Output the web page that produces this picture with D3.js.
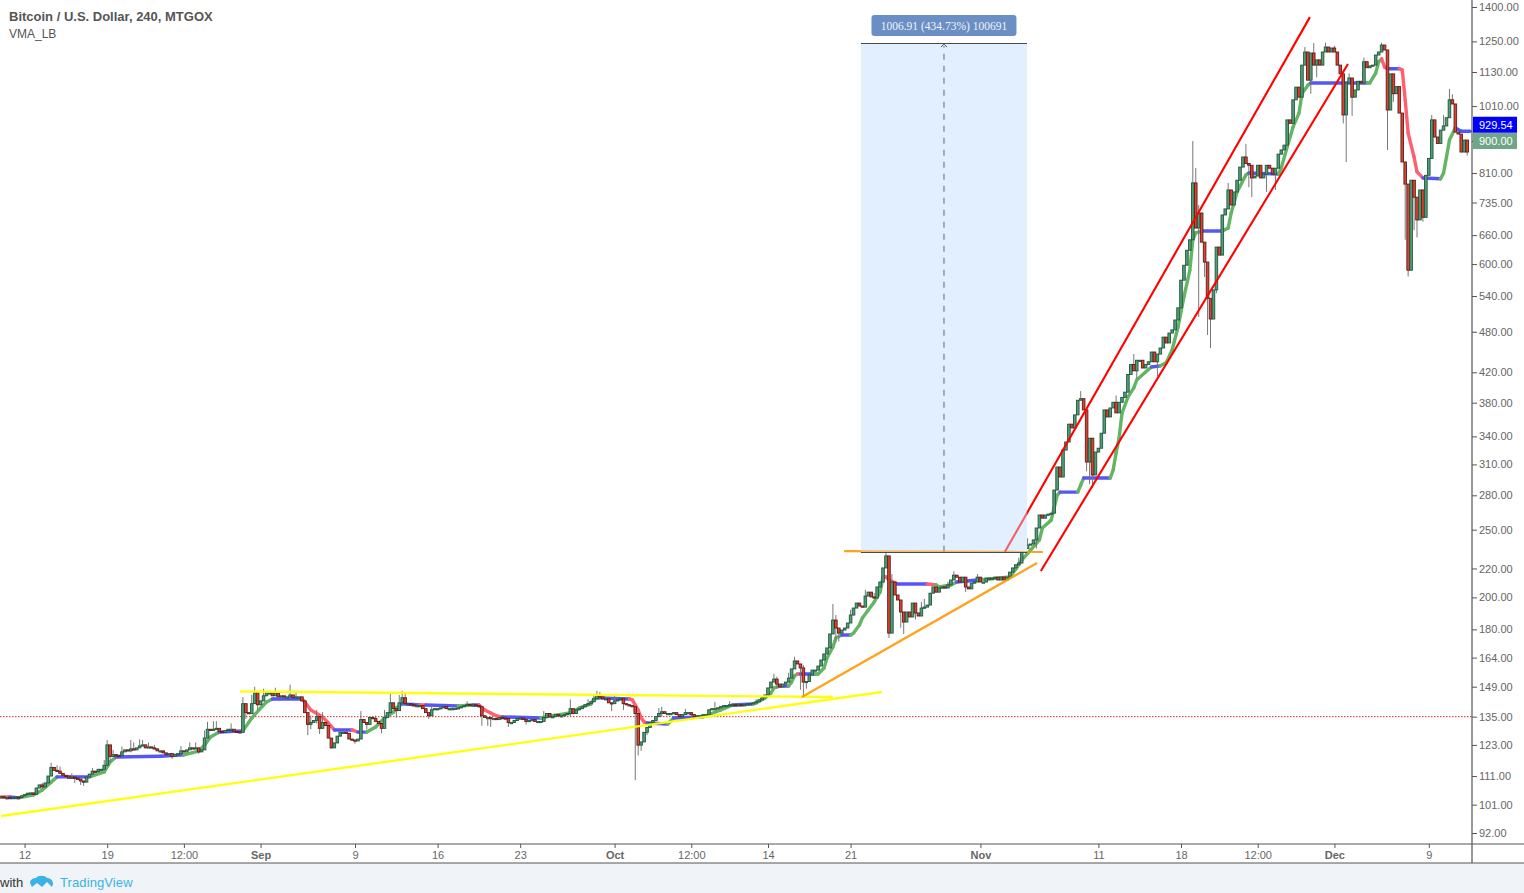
<!DOCTYPE html>
<html>
<head>
<meta charset="utf-8">
<script src="https://cdn.jsdelivr.net/npm/d3@7"></script>
<style>
  html, body { margin: 0; padding: 0; background: #fff; overflow: hidden; }
  svg { display: block; }
</style>
</head>
<body>
<svg id="chart" width="1524" height="893"></svg>
<script>
// closes per 240 bar, ten to a row
const closes = [
  103.7,103.4,103.4,103.2,103.4,103.6,103.4,104,104.4,104.9,
  105,104.5,106.7,107.8,107.1,108.5,111,114.2,113.1,112.8,
  112,111.3,111,110.2,110.6,110.2,109.9,109.2,108.8,110.6,
  111.7,112.8,112.6,113.5,113.5,115,123,118.4,119.1,118.9,
  118.7,120.2,121,120.6,121.4,121,121.8,122.6,123,121.8,
  122.2,121.8,121.4,120.6,120.6,119.8,119.1,119.5,118.4,119.1,
  119.5,120.6,120.2,121,121.8,121.4,121.8,120.2,121,125.8,
  129.5,129,129.5,129.9,128.6,128.2,129,129.5,129.5,128.6,
  128.4,128.2,140.9,136.8,136.4,140.9,146,140.4,142.2,144.6,
  146,146,144.6,146,144.1,144.6,144.1,144.1,145,143.7,
  144.1,144.1,142.2,136.8,131.6,132.4,133.3,135,129.9,132.4,
  131.1,125.8,121.8,123.8,126.6,128.2,128.2,127.8,125.4,125,
  124.6,125.4,133.7,132.4,131.6,134.6,134.2,132.9,132,129.9,
  134.6,136.8,141.3,138.6,137.7,141.3,143.7,140.9,140.9,140.4,
  140,140,140,138.6,136.8,135.4,138.1,138.6,138.6,139,
  139.5,138.6,138.6,138.6,138.8,139,139.5,140,140.6,140.4,
  140.4,140,139.5,135.4,134.6,134.6,134.2,134.2,133.7,134.6,
  134.4,134.2,132.4,132.4,133.3,134.2,134.4,133.7,132.9,133.3,
  133.7,132.9,132.9,132.9,134.6,136.4,135,135,135.9,135.4,
  135.4,135.9,136.4,138.6,136.4,138.1,138.6,139.5,140.4,140.9,
  141.8,143.2,144.6,144.1,143.2,143.2,141.3,140.9,142.2,142.7,
  143.2,140.9,140.4,140,139.5,136.4,122.9,124.2,128.2,130.3,
  132.4,133.3,135,136.4,137.2,136.4,136.4,136.4,136.8,135.9,
  135,135.9,136.8,136.8,135.9,135,135.4,135.4,135.9,135.9,
  138.1,138.6,138.6,139,139.5,140,140,140.4,140.4,140,
  140.4,140,140.4,140.9,140.9,141.3,141.8,142.7,143.7,145,
  148.4,151.3,152.8,150.3,148.9,150.3,151.3,153.3,158,162.2,
  160.6,158.5,151.3,151.6,154.9,157.4,157.4,159.5,162.7,166,
  169.3,177.3,185.6,180.8,177.8,179.6,180.8,183.8,188.7,193.1,
  196.3,194.4,193.7,200.9,203.5,200.3,199.7,207,210.4,220.4,
  229.3,177.8,210.4,201.6,198.3,190.6,184.4,190.6,187.5,196.3,
  190,188.1,193.1,193.7,195,202.8,207,203.5,206.3,207,
  206.3,208.4,211.8,215.2,213.8,210.4,213.8,207,205.7,209.7,
  210.4,213.8,210.4,210.4,213.1,213.1,213.1,213.8,211.8,213.8,
  211.8,213.8,217.4,220.4,222.7,224,232.3,235,237.7,238.5,
  241.7,251.4,262.4,259.7,262.4,263.2,264,284.9,307.4,297.4,
  325,333.8,354,349.6,365,383,385,371,312.5,338,
  299.4,322.9,327,343.6,371,362.5,373.4,380.5,367.4,380.5,
  386.6,393.4,417,431,422,437,437,426,431,434.8,
  449,434.8,446,455,471.6,462.6,478,483,499,519.4,
  569,597.7,628,650,784,675.7,710,645,604,536,
  500.6,551,634.6,618,705.4,719.6,766,729,761,791,
  826,854,836,831,797,802,831,797,807,831,
  823,807,823,862,874,888,965,954,1031,1075,
  1040,1156,1207,1100,1203,1156,1176,1156,1207,1227,
  1207,1223,1207,1156,1123,981,1090,1108,1040,1065,
  1096,1090,1169,1146,1153,1156,1195,1207,1235,1215,
  997,1123,1052,1077,987,840,781,588,791,748,
  694,766,700,804,850,965,912,893,933,946,
  972,1031,1017,927,921,868,903,868
];
const firstOpen = 103.6;

// only the wicks that stick out far enough to read: [bar, price]
const highWicks = [
  [14,108.5],[17,116],[19,115],[20,114.5],[24,112],[31,114],[35,117],[36,125],[38,121],[41,122.3],
  [44,125],[45,124],[47,125.3],[48,125],[50,124],[52,123],[61,122.5],[64,124],[66,124],[69,129],
  [70,132.7],[72,133],[73,133],[78,132],[82,144],[85,145],[86,149],[89,148],[93,148.5],[98,150],
  [100,147],[105,135.5],[107,138],[109,137],[122,137.5],[127,135.5],[130,138],[132,145.8],[135,145],
  [136,147],[137,145.5],[140,141.5],[146,140],[153,140],[158,142],[184,137.5],[193,142.9],[199,143],
  [201,145.5],[202,147],[203,146.5],[208,144.5],[223,138.9],[224,139.5],[232,138.5],[242,141.7],
  [247,142],[256,143],[262,155.5],[263,154],[267,156],[269,164.5],[272,160],[282,195.7],[283,188.7],
  [288,192],[293,205],[296,203],[300,233.8],[302,216],[312,197],[313,199],[321,210.5],[323,218],
  [331,216],[345,228],[348,243],[366,394.8],[378,389],[384,446],[404,900],[405,823.6],[406,729],
  [416,784],[422,891],[442,1227],[445,1243],[449,1245],[452,1232],[457,1125],[462,1185],[468,1245],
  [485,981],[489,981],[491,1069],[492,1050]
];
const lowWicks = [
  [2,102.6],[14,106.5],[25,108.5],[27,107.8],[28,107.5],[37,116],[44,120],[58,117.5],[67,119.5],
  [82,129],[83,134],[87,138],[104,127],[105,129.5],[107,132],[108,127.5],[112,121.5],[120,123.5],
  [124,129.5],[129,127.8],[130,131],[134,134.5],[145,134],[163,131],[165,131],[166,130.5],[172,130.5],
  [178,131.5],[193,135],[207,137.5],[211,138],[215,109.5],[216,118.8],[217,120.6],[219,127],[224,135],
  [234,133.5],[263,148],[271,147.5],[272,144],[273,148],[283,172.5],[284,173],[301,175],[305,181],
  [306,177.3],[310,186],[327,203.5],[351,235],[368,303],[369,290.5],[370,287],[385,411],[392,414.5],
  [406,504],[408,575],[409,475],[410,455],[412,545],[423,773],[424,748],[429,761],[432,766],
  [444,1052],[446,1110],[455,954],[456,840],[458,978],[470,874],[472,1024],[476,650],[477,576],
  [479,671],[480,655],[482,690],[497,858]
];

// VMA_LB points
const vmaBars = [0,3,6,11,14,17,19,30,35,37,39,54,62,67,69,71,74,82,85,88,90,92,102,103,105,109,111,113,119,121,124,
  127,130,133,134,136,142,144,155,160,162,164,166,168,170,183,186,191,194,196,200,201,203,213,214,216,217,218,219,226,228,
  238,244,248,255,256,259,261,262,264,267,268,269,270,271,276,277,279,280,282,283,285,288,289,291,292,294,296,298,299,
  300,301,304,314,317,318,322,324,331,335,342,344,346,349,352,353,356,357,358,359,365,366,367,376,377,378,379,380,382,
  384,385,388,390,393,395,397,399,401,403,404,405,407,414,416,417,419,422,423,433,434,436,438,440,441,443,444,463,464,
  466,467,468,469,470,474,475,476,477,479,480,482,488,489,490,491,493,495,498];
const vmaValues = [103.6,103.6,103.3,104.3,106,108.8,110.7,110.7,112.5,116.3,118.2,118.5,119,120.5,122.9,126.2,128.3,128.8,134.4,138.9,141.7,143.1,143.1,141.7,138,134.9,132.2,129.2,129.2,128.3,128.3,
  130.5,134.4,137,138.9,140.8,140.3,140.3,139.9,140.3,140.3,138,136.6,135.3,134.9,134.4,135.3,136.2,137,138.9,140.8,143.1,143.6,143.1,142.7,138,134.4,132.7,132.2,131.8,134.4,
  134.9,138,140.3,140.8,141.2,143.6,145.9,148.4,149.3,149.3,151.3,154.4,155.4,155.4,155.4,155.4,158.5,163.8,169.8,175,176.7,176.7,177.8,182.6,186.9,191.9,197,203.5,214,
  214,211.8,209,209,208.4,207,208.4,210.4,211.8,212.5,214,219.6,226.2,233.8,241.7,251.4,258,268.5,280,283,283,289.7,296.4,296.4,304.3,322,338,367,387,
  399,409.5,420.4,427.4,429,433.6,452,487.6,538.5,588,650,665,669,669,675.7,710,761,805,810,807,823.6,883,943,987,1052,1082,1090,1090,1090,
  1126,1169,1180,1149,1142,1142,1138,1031,924,854,813,797,795,810,854,903,940,929.54,929.54];
// colour runs of the VMA, each run ends at the bar in vmaRunEnds
const vmaRunEnds = [3,6,19,30,39,62,74,82,92,102,113,119,121,124,136,142,144,155,160,162,170,183,203,213,219,226,228,238,248,255,264,267,270,271,276,285,288,299,304,314,317,324,331,359,365,367,376,390,393,407,414,423,433,444,463,468,470,474,482,488,493,498];
const vmaRunStates = ["r","b","g","b","g","b","g","b","g","b","r","b","r","b","g","b","r","b","g","b","r","b","g","b","r","b","g","b","g","b","g","b","g","r","b","g","b","g","r","b","r","g","b","g","b","g","b","g","b","g","b","g","b","g","b","g","r","b","r","b","g","b"];

const priceTicks = [92,101,111,123,135,149,164,180,200,220,250,280,310,340,380,420,480,540,600,660,735,810,900,1010,1130,1250,1400];
const timeTickBars = [8,36,62,88,120,148,176,208,234,260,288,332,372,400,426,452,484];
const timeTickLabels = ["12","19","12:00","Sep","9","16","23","Oct","12:00","14","21","Nov","11","18","12:00","Dec","9"];
const monthLabels = ["Sep","Oct","Nov","Dec"];

// hand drawn tools, [bar, price] pairs
const yellowLines = [[[0,97.3],[298.6,146.4]], [[81,146.7],[282,144]]];
const orangeLines = [[[271.5,144],[351.2,224]], [[285.8,233],[353.2,232.4]]];
const redLines = [[[340.3,232.4],[443.7,1354]], [[352.5,218.2],[456.6,1160]]];
const measureBars = [291.5, 347.8];
const measurePrices = [232.4, 1243];
const measureText = "1006.91 (434.73%) 100691";
const alertPrice = 135;
const vmaLast = 929.54;
const lastPrice = 900;

const svg = d3.select("#chart");
const axisX = 1472, axisY = 844, footY = 863;

const x = d3.scaleLinear().domain([0, 500]).range([1, 1476]);
const y = d3.scaleLog().domain([92, 1400]).range([833, 7]);

svg.append("defs").append("clipPath").attr("id", "pane")
  .append("rect").attr("width", axisX).attr("height", axisY);

const opens = closes.map((c, i) => i === 0 ? firstOpen : closes[i - 1]);
const highs = closes.map((c, i) => Math.max(c, opens[i]));
const lows = closes.map((c, i) => Math.min(c, opens[i]));
highWicks.forEach(d => { highs[d[0]] = Math.max(highs[d[0]], d[1]); });
lowWicks.forEach(d => { lows[d[0]] = Math.min(lows[d[0]], d[1]); });

const pane = svg.append("g").attr("clip-path", "url(#pane)");

// 135 alert line
pane.append("line")
  .attr("x1", 0).attr("x2", axisX)
  .attr("y1", y(alertPrice)).attr("y2", y(alertPrice))
  .attr("stroke", "#d8302a").attr("stroke-width", 1).attr("stroke-dasharray", "1.5,1.5");

// VMA under the candles
const vmaColors = { g: "#63b563", r: "#ff5f6e", b: "#5656f5" };
const vmaLine = d3.line().x(d => x(d[0])).y(d => y(d[1]));
const vmaSegs = vmaBars.slice(1).map((b, i) => ({
  pts: [[vmaBars[i], vmaValues[i]], [b, vmaValues[i + 1]]],
  state: vmaRunStates[vmaRunEnds.findIndex(e => e >= b)]
}));
pane.append("g").selectAll("path").data(vmaSegs).join("path")
  .attr("d", d => vmaLine(d.pts))
  .attr("fill", "none")
  .attr("stroke", d => vmaColors[d.state])
  .attr("stroke-width", 3.4)
  .attr("stroke-linecap", "round");

// candles
const bars = closes.map((c, i) => ({ i, o: opens[i], c, h: highs[i], l: lows[i] }));
pane.append("g").selectAll("line").data(bars).join("line")
  .attr("x1", d => x(d.i)).attr("x2", d => x(d.i))
  .attr("y1", d => y(d.h)).attr("y2", d => y(d.l))
  .attr("stroke", "#777").attr("stroke-width", 1);
pane.append("g").selectAll("rect").data(bars).join("rect")
  .attr("x", d => x(d.i) - 1.3)
  .attr("width", 2.6)
  .attr("y", d => y(Math.max(d.o, d.c)))
  .attr("height", d => Math.max(1.2, y(Math.min(d.o, d.c)) - y(Math.max(d.o, d.c))))
  .attr("fill", d => d.c >= d.o ? "#4f9f76" : "#dc432f")
  .attr("stroke", d => d.c >= d.o ? "#24563f" : "#5e1c19")
  .attr("stroke-width", 0.9);

// measure tool
const mx0 = x(measureBars[0]), mx1 = x(measureBars[1]);
const my0 = y(measurePrices[0]), my1 = y(measurePrices[1]);
const mxc = (mx0 + mx1) / 2;
pane.append("rect")
  .attr("x", mx0).attr("y", my1).attr("width", mx1 - mx0).attr("height", my0 - my1)
  .attr("fill", "#e1efff");

// trend lines
const toolLine = d3.line().x(d => x(d[0])).y(d => y(d[1]));
function drawTools(list, color, opacity, width) {
  pane.append("g").selectAll("path").data(list).join("path")
    .attr("d", toolLine).attr("fill", "none")
    .attr("stroke", color).attr("stroke-width", width).attr("stroke-opacity", opacity);
}
drawTools(yellowLines, "#ffff00", 0.95, 2.4);
drawTools(orangeLines, "#ff9800", 0.9, 2.2);
drawTools(redLines, "#ff0000", 1, 2.1);

// measure box tints the start of the upper red line
pane.append("rect")
  .attr("x", mx0).attr("y", my1).attr("width", mx1 - mx0).attr("height", my0 - my1)
  .attr("fill", "#e1efff").attr("fill-opacity", 0.4);
[my0, my1].forEach(v => {
  pane.append("line").attr("x1", mx0).attr("x2", mx1).attr("y1", Math.round(v) + 0.5).attr("y2", Math.round(v) + 0.5)
    .attr("stroke", "#4a4a4a").attr("stroke-width", 1);
});
pane.append("line").attr("x1", mxc).attr("x2", mxc).attr("y1", my0).attr("y2", my1 + 3)
  .attr("stroke", "#858d98").attr("stroke-width", 1.4).attr("stroke-dasharray", "6,6");
pane.append("path")
  .attr("d", `M${mxc - 3},${my1 + 4}L${mxc},${my1 + 1}L${mxc + 3},${my1 + 4}`)
  .attr("fill", "none").attr("stroke", "#555").attr("stroke-width", 1);
pane.append("rect")
  .attr("x", mxc - 72.5).attr("y", my1 - 28).attr("width", 145).attr("height", 21).attr("rx", 3)
  .attr("fill", "#6b8fc4");
pane.append("text")
  .attr("x", mxc).attr("y", my1 - 13.5).attr("text-anchor", "middle")
  .attr("font-family", "'Liberation Serif', serif").attr("font-size", 11.5).attr("fill", "#eef3fa")
  .text(measureText);

// axes
const axisColor = "#555";
const yAxis = svg.append("g").attr("transform", `translate(${axisX},0)`)
  .call(d3.axisRight(y).tickValues(priceTicks).tickFormat(d => d.toFixed(2)).tickSize(5).tickPadding(2));
yAxis.select(".domain").remove();
yAxis.selectAll("line").attr("stroke", axisColor);
yAxis.selectAll("text").attr("font-family", "'Liberation Sans', Arial, sans-serif").attr("font-size", 11).attr("fill", "#666");

const xAxis = svg.append("g").attr("transform", `translate(0,${axisY})`)
  .call(d3.axisBottom(x).tickValues(timeTickBars).tickFormat((d, i) => timeTickLabels[i]).tickSize(4).tickPadding(3));
xAxis.select(".domain").remove();
xAxis.selectAll("line").attr("stroke", axisColor);
xAxis.selectAll("text")
  .attr("font-family", "'Liberation Sans', Arial, sans-serif").attr("font-size", 11)
  .attr("fill", "#666")
  .attr("font-weight", (d, i) => monthLabels.includes(timeTickLabels[i]) ? "bold" : "normal");

svg.append("line").attr("x1", axisX).attr("x2", axisX).attr("y1", 0).attr("y2", footY)
  .attr("stroke", axisColor).attr("stroke-width", 1.2);
svg.append("line").attr("x1", 0).attr("x2", 1524).attr("y1", axisY).attr("y2", axisY)
  .attr("stroke", axisColor).attr("stroke-width", 1.2);

// price flags
[[vmaLast, "#0000ff", -6.5, "#fff"], [lastPrice, "#6fa688", 0, "#fff"]].forEach(f => {
  const cy = y(f[0]) + f[2];
  svg.append("rect").attr("x", axisX + 1).attr("y", cy - 8).attr("width", 44).attr("height", 16).attr("fill", f[1]);
  svg.append("text").attr("x", axisX + 7).attr("y", cy + 4)
    .attr("font-family", "'Liberation Sans', Arial, sans-serif").attr("font-size", 11).attr("fill", f[3])
    .text(f[0].toFixed(2));
});

// titles
svg.append("text").attr("x", 9).attr("y", 21)
  .attr("font-family", "'Liberation Sans', Arial, sans-serif").attr("font-size", 13).attr("font-weight", "bold")
  .attr("fill", "#555").text("Bitcoin / U.S. Dollar, 240, MTGOX");
svg.append("text").attr("x", 9).attr("y", 38)
  .attr("font-family", "'Liberation Sans', Arial, sans-serif").attr("font-size", 12)
  .attr("fill", "#555").text("VMA_LB");

// footer
svg.append("rect").attr("x", 0).attr("y", footY).attr("width", 1524).attr("height", 893 - footY).attr("fill", "#f0f3f7");
svg.append("line").attr("x1", 0).attr("x2", 1524).attr("y1", footY).attr("y2", footY).attr("stroke", "#555").attr("stroke-width", 1);
svg.append("text").attr("x", 0).attr("y", 887)
  .attr("font-family", "'Liberation Sans', Arial, sans-serif").attr("font-size", 13).attr("fill", "#333").text("with");
svg.append("path")
  .attr("d", "M30,883C30,879 34,878 36,878C38,875 45,875 47,878C50,878 53,880 53,884L52,887L47,882L42,887L37,883L32,887Z")
  .attr("fill", "#3bb3e4");
svg.append("text").attr("x", 60).attr("y", 887)
  .attr("font-family", "'Liberation Sans', Arial, sans-serif").attr("font-size", 13).attr("fill", "#3bb3e4").attr("letter-spacing", 0.1).text("TradingView");
</script>
</body>
</html>
